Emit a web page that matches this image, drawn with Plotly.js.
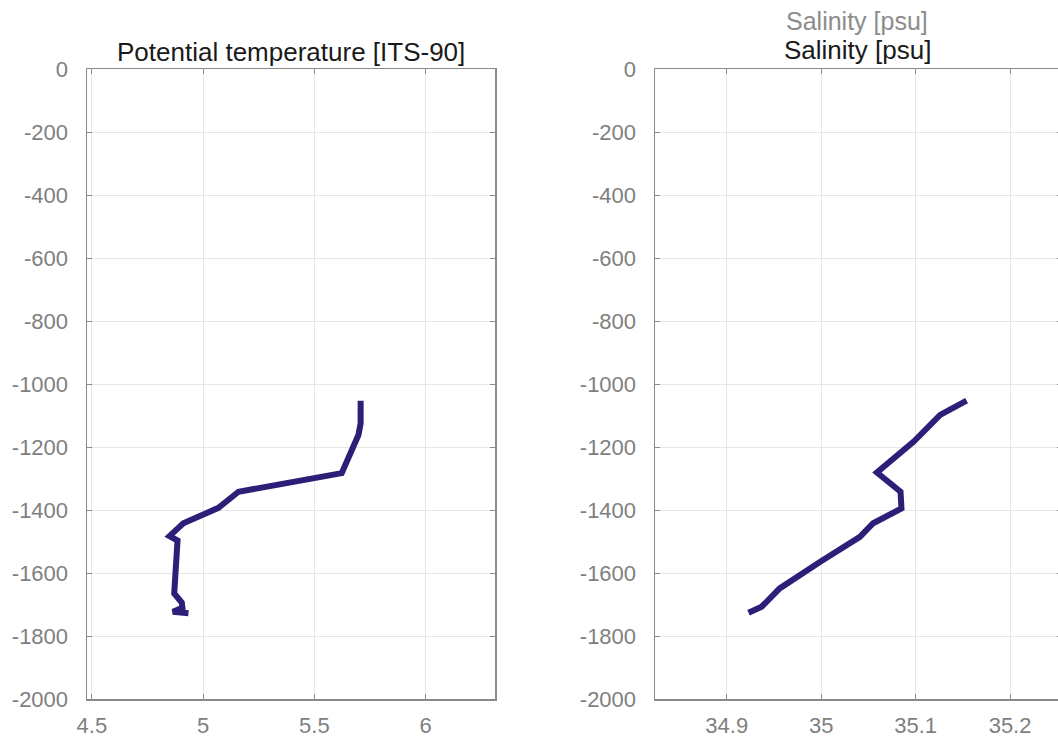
<!DOCTYPE html>
<html>
<head>
<meta charset="utf-8">
<script src="https://cdn.plot.ly/plotly-3.0.1.min.js"></script>
<style>
  html, body { margin: 0; padding: 0; overflow: hidden; background: #fff; }
  #chart { width: 1062px; height: 742px; }
</style>
</head>
<body>
<div id="chart"></div>
<script>
// ---- data ----
const tempTitle = 'Potential temperature [ITS-90]';
const salTitle = 'Salinity [psu]';

const tempValues = [5.708, 5.708, 5.698, 5.623, 5.159, 5.069, 4.911, 4.849, 4.885, 4.870, 4.904, 4.907, 4.864, 4.934];
const tempDepths = [-1053, -1125, -1162, -1283, -1342, -1393, -1442, -1483, -1497, -1665, -1694, -1710, -1723, -1728];

const salValues = [35.154, 35.126, 35.098, 35.059, 35.084, 35.085, 35.055, 35.041, 34.999, 34.956, 34.937, 34.923];
const salDepths = [-1053, -1098, -1183, -1281, -1342, -1395, -1442, -1485, -1564, -1649, -1707, -1726];

const depthTickVals = [0, -200, -400, -600, -800, -1000, -1200, -1400, -1600, -1800, -2000];
const depthTickText = ['0', '-200', '-400', '-600', '-800', '-1000', '-1200', '-1400', '-1600', '-1800', '-2000'];

const tempTickVals = [4.5, 5, 5.5, 6];
const tempTickText = ['4.5', '5', '5.5', '6'];
const salTickVals = [34.9, 35, 35.1, 35.2];
const salTickText = ['34.9', '35', '35.1', '35.2'];

// ---- layout helpers ----
const W = 1062, H = 742, T = 69, B = 43;
const plotH = H - T - B;
const px2x = p => p / W;
const px2y = p => 1 + (T - p) / plotH;

const lineColor = '#2b1f78';
const axisColor = '#8a8a8a';
const gridColor = '#e6e6e6';
const tickFont = { family: 'Liberation Sans, Arial, sans-serif', size: 22, color: '#7f7f7f' };

function xAxis(domain, range, vals, text) {
  return {
    domain: domain, range: range, tickmode: 'array', tickvals: vals, ticktext: text,
    showline: true, linecolor: axisColor, linewidth: 1.5, mirror: 'ticks',
    ticks: 'inside', ticklen: 5, tickwidth: 1, tickcolor: axisColor,
    showgrid: true, gridcolor: gridColor, gridwidth: 1, zeroline: false,
    tickfont: tickFont, ticklabelstandoff: 6, fixedrange: true
  };
}
function yAxis(anchor) {
  return {
    anchor: anchor, domain: [0, 1], range: [-2000, 0], tickmode: 'array',
    tickvals: depthTickVals, ticktext: depthTickText,
    showline: true, linecolor: axisColor, linewidth: 1.5, mirror: 'ticks',
    ticks: 'inside', ticklen: 5, tickwidth: 1, tickcolor: axisColor,
    showgrid: true, gridcolor: gridColor, gridwidth: 1, zeroline: false,
    tickfont: tickFont, ticklabelstandoff: 13, fixedrange: true
  };
}

const traces = [
  { x: tempValues, y: tempDepths, xaxis: 'x', yaxis: 'y', mode: 'lines',
    line: { color: lineColor, width: 6 }, hoverinfo: 'skip' },
  { x: salValues, y: salDepths, xaxis: 'x2', yaxis: 'y2', mode: 'lines',
    line: { color: lineColor, width: 6 }, hoverinfo: 'skip' }
];

const titleFont = { family: 'Liberation Sans, Arial, sans-serif', size: 26, color: '#1a1a1a' };

const layout = {
  width: W, height: H,
  margin: { l: 0, r: 0, t: T, b: B, pad: 0 },
  paper_bgcolor: '#ffffff', plot_bgcolor: '#ffffff',
  showlegend: false, hovermode: false,
  xaxis: xAxis([px2x(87), px2x(495)], [4.478, 6.312], tempTickVals, tempTickText),
  yaxis: yAxis('x'),
  xaxis2: xAxis([px2x(655), 1], [34.824, 35.255], salTickVals, salTickText),
  yaxis2: yAxis('x2'),
  annotations: [
    { text: tempTitle, xref: 'paper', yref: 'paper', x: px2x(291), y: px2y(52),
      xanchor: 'center', yanchor: 'middle', showarrow: false, font: titleFont },
    { text: salTitle, xref: 'paper', yref: 'paper', x: px2x(857), y: px2y(50),
      xanchor: 'center', yanchor: 'middle', showarrow: false, font: titleFont },
    { text: salTitle, xref: 'paper', yref: 'paper', x: px2x(857), y: px2y(21),
      xanchor: 'center', yanchor: 'middle', showarrow: false,
      font: { family: 'Liberation Sans, Arial, sans-serif', size: 25, color: '#8c8c8c' } }
  ]
};

Plotly.newPlot('chart', traces, layout, { staticPlot: true, displayModeBar: false });
</script>
</body>
</html>
